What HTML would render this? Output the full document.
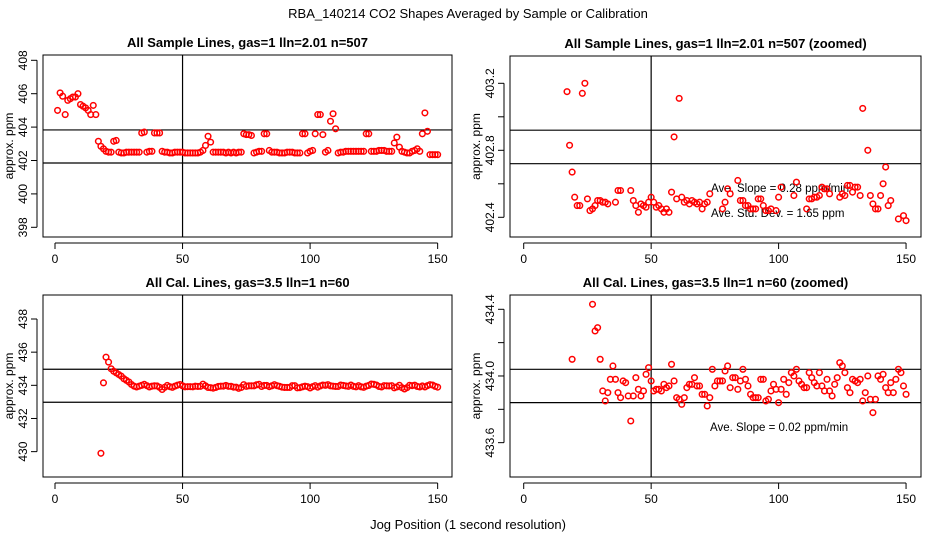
<!DOCTYPE html>
<html><head><meta charset="utf-8"><style>
body{margin:0;background:#fff;}
svg{display:block;font-family:"Liberation Sans",Arial,sans-serif;}
</style></head><body>
<svg id="chart" width="936" height="540" viewBox="0 0 936 540">
<rect width="936" height="540" fill="#fff"/>
<text x="468" y="18" text-anchor="middle" font-size="13">RBA_140214  CO2 Shapes Averaged by Sample or Calibration</text>
<text x="468" y="529" text-anchor="middle" font-size="13">Jog Position (1 second resolution)</text>
</svg>
<script>
// Panel 1: all sample lines
const p1X = [1,2,3,4,5,6,7,8,9,10,11,12,13,14,15,16,17,18,19,20,21,22,23,24,25,26,27,28,29,30,31,32,33,34,35,36,37,38,39,40,41,42,43,44,45,46,47,48,49,50,51,52,53,54,55,56,57,58,59,60,61,62,63,64,65,66,67,68,69,70,71,72,73,74,75,76,77,78,79,80,81,82,83,84,85,86,87,88,89,90,91,92,93,94,95,96,97,98,99,100,101,102,103,104,105,106,107,108,109,110,111,112,113,114,115,116,117,118,119,120,121,122,123,124,125,126,127,128,129,130,131,132,133,134,135,136,137,138,139,140,141,142,143,144,145,146,147,148,149,150];
const p1Y = [405.0,406.05,405.85,404.75,405.6,405.7,405.8,405.8,406.0,405.35,405.25,405.15,405.0,404.75,405.3,404.75,403.15,402.85,402.7,402.55,402.5,402.5,403.15,403.2,402.5,402.45,402.45,402.5,402.5,402.5,402.5,402.5,402.5,403.65,403.7,402.5,402.55,402.55,403.65,403.65,403.65,402.55,402.5,402.5,402.45,402.45,402.5,402.5,402.5,402.5,402.45,402.45,402.45,402.45,402.45,402.45,402.5,402.6,402.9,403.45,403.1,402.5,402.5,402.5,402.5,402.5,402.45,402.5,402.45,402.5,402.45,402.5,402.5,403.6,403.55,403.55,403.5,402.45,402.5,402.55,402.55,403.6,403.6,402.6,402.5,402.5,402.5,402.45,402.45,402.45,402.5,402.5,402.5,402.45,402.45,402.45,403.6,403.6,402.45,402.55,402.6,403.6,404.75,404.75,403.55,402.5,402.6,404.35,404.8,403.9,402.45,402.5,402.5,402.55,402.55,402.55,402.55,402.55,402.55,402.55,402.55,403.6,403.6,402.55,402.55,402.55,402.6,402.6,402.6,402.55,402.55,402.55,403.05,403.4,402.8,402.55,402.5,402.45,402.45,402.55,402.6,402.7,402.55,403.6,404.85,403.75,402.35,402.35,402.35,402.35];
// Panel 2: zoomed sample lines
const p2X = [17,18,19,20,21,22,23,24,25,26,27,28,29,30,31,32,33,36,37,38,42,43,44,45,46,47,48,49,50,51,52,53,54,55,56,57,58,59,60,61,62,63,64,65,66,67,68,69,70,71,72,73,78,79,80,81,84,85,86,87,88,89,90,91,92,93,94,95,96,97,99,100,101,106,107,111,112,113,114,115,116,117,118,119,120,124,125,126,127,128,129,130,131,132,133,135,136,137,138,139,140,141,142,143,144,147,149,150];
const p2Y = [403.15,402.83,402.67,402.52,402.47,402.47,403.14,403.2,402.51,402.44,402.45,402.47,402.5,402.5,402.49,402.49,402.48,402.49,402.56,402.56,402.56,402.5,402.47,402.43,402.48,402.47,402.46,402.49,402.52,402.49,402.46,402.47,402.45,402.43,402.45,402.43,402.55,402.88,402.51,403.11,402.52,402.49,402.5,402.48,402.5,402.49,402.48,402.49,402.45,402.48,402.49,402.54,402.45,402.49,402.57,402.54,402.62,402.5,402.5,402.47,402.47,402.45,402.45,402.45,402.51,402.51,402.47,402.44,402.44,402.45,402.44,402.52,402.58,402.53,402.61,402.45,402.51,402.51,402.52,402.52,402.53,402.58,402.57,402.57,402.54,402.52,402.54,402.53,402.59,402.59,402.55,402.58,402.58,402.53,403.05,402.8,402.53,402.48,402.45,402.45,402.53,402.6,402.7,402.47,402.5,402.39,402.41,402.38];
// Panel 3: all cal lines
const p3X = [18,19,20,21,22,23,24,25,26,27,28,29,30,31,32,33,34,35,36,37,38,39,40,41,42,43,44,45,46,47,48,49,50,51,52,53,54,55,56,57,58,59,60,61,62,63,64,65,66,67,68,69,70,71,72,73,74,75,76,77,78,79,80,81,82,83,84,85,86,87,88,89,90,91,92,93,94,95,96,97,98,99,100,101,102,103,104,105,106,107,108,109,110,111,112,113,114,115,116,117,118,119,120,121,122,123,124,125,126,127,128,129,130,131,132,133,134,135,136,137,138,139,140,141,142,143,144,145,146,147,148,149,150];
const p3Y = [429.9,434.15,435.7,435.4,435.0,434.85,434.75,434.65,434.55,434.4,434.3,434.2,434.05,433.95,433.9,433.95,434.0,434.06,433.98,433.9,433.95,433.97,433.96,433.88,433.75,433.88,433.99,433.92,433.88,433.95,434.01,434.05,433.97,433.91,433.92,433.92,433.91,433.95,433.93,433.94,434.07,433.97,433.87,433.86,433.83,433.87,433.93,433.95,433.95,433.99,433.94,433.94,433.89,433.89,433.82,433.87,434.04,433.94,433.97,433.97,433.97,434.03,434.06,433.93,433.99,433.99,433.92,433.97,434.04,433.98,433.94,433.89,433.87,433.87,433.87,433.98,433.98,433.85,433.86,433.91,433.95,433.92,433.84,433.92,433.98,433.89,433.96,434.02,434.0,434.04,433.97,433.95,433.93,433.93,434.02,433.99,433.96,433.94,434.02,433.94,433.91,433.98,433.91,433.88,433.95,433.99,434.08,434.06,434.02,433.93,433.9,433.98,433.97,433.96,433.98,433.85,433.9,434.0,433.86,433.78,433.86,434.0,433.98,434.01,433.93,433.9,433.96,433.9,433.98,434.04,434.02,433.94,433.89];
// Panel 4: zoomed cal lines
const p4X = [19,27,28,29,30,31,32,33,34,35,36,37,38,39,40,41,42,43,44,45,46,47,48,49,50,51,52,53,54,55,56,57,58,59,60,61,62,63,64,65,66,67,68,69,70,71,72,73,74,75,76,77,78,79,80,81,82,83,84,85,86,87,88,89,90,91,92,93,94,95,96,97,98,99,100,101,102,103,104,105,106,107,108,109,110,111,112,113,114,115,116,117,118,119,120,121,122,123,124,125,126,127,128,129,130,131,132,133,134,135,136,137,138,139,140,141,142,143,144,145,146,147,148,149,150];
const p4Y = [434.10,434.43,434.27,434.29,434.10,433.91,433.85,433.90,433.98,434.06,433.98,433.90,433.87,433.97,433.96,433.88,433.73,433.88,433.99,433.92,433.88,433.91,434.01,434.05,433.97,433.91,433.92,433.92,433.91,433.95,433.93,433.94,434.07,433.97,433.87,433.86,433.83,433.87,433.93,433.95,433.95,433.99,433.94,433.94,433.89,433.89,433.82,433.87,434.04,433.94,433.97,433.97,433.97,434.03,434.06,433.93,433.99,433.99,433.92,433.97,434.04,433.98,433.94,433.89,433.87,433.87,433.87,433.98,433.98,433.85,433.86,433.91,433.95,433.92,433.84,433.92,433.98,433.89,433.96,434.02,434.0,434.04,433.97,433.95,433.93,433.93,434.02,433.99,433.96,433.94,434.02,433.94,433.91,433.98,433.91,433.88,433.95,433.99,434.08,434.06,434.02,433.93,433.9,433.98,433.97,433.96,433.98,433.85,433.9,434.0,433.86,433.78,433.86,434.0,433.98,434.01,433.93,433.9,433.96,433.9,433.98,434.04,434.02,433.94,433.89];

const xTicks = [0,50,100,150];
const p1YTicks = [398,400,402,404,406,408];
const p2YTicks = [402.4,402.6,402.8,403.0,403.2];
const p2YLabels = ["402.4","","402.8","","403.2"];
const p3YTicks = [430,432,434,436,438];
const p4YTicks = [433.6,433.8,434.0,434.2,434.4];
const p4YLabels = ["433.6","","434.0","","434.4"];
const p1HLines = [403.83,401.85];
const p2HLines = [402.92,402.72];
const p3HLines = [434.97,432.98];
const p4HLines = [434.04,433.84];
const vLineX = 50;

const NS = "http://www.w3.org/2000/svg";
const svg = document.getElementById('chart');
function mk(tag, attrs, parent){
  const e = document.createElementNS(NS, tag);
  for (const k in attrs) e.setAttribute(k, attrs[k]);
  (parent||svg).appendChild(e);
  return e;
}

function panel(cfg){
  const g = mk('g', {});
  
  
  const sx = v => cfg.x0 + v * cfg.xs;
  const sy = v => cfg.yRef - (v - cfg.vRef) * cfg.ys;
  const t = mk('text', {x: (cfg.L + cfg.R)/2, y: cfg.T - 8, 'text-anchor':'middle', 'font-size':'13', 'font-weight':'bold'}, g);
  t.textContent = cfg.title;
  
  
  const box = mk('rect', {x: cfg.L, y: cfg.T, width: cfg.R - cfg.L, height: cfg.B - cfg.T, fill:'none', stroke:'#000', 'stroke-width':'1'}, g);
  
  
  // x axis
  const xa = mk('g', {}, g);
  
  
  mk('line', {x1: sx(xTicks[0]), x2: sx(xTicks[xTicks.length-1]), y1: cfg.B + 6, y2: cfg.B + 6, stroke:'#000'}, xa);
  xTicks.forEach(v => {
    mk('line', {x1: sx(v), x2: sx(v), y1: cfg.B + 6, y2: cfg.B + 12, stroke:'#000'}, xa);
    const tl = mk('text', {x: sx(v), y: cfg.B + 26, 'text-anchor':'middle', 'font-size':'12'}, xa);
    tl.textContent = v;
    
    
  });
  // y axis
  const ya = mk('g', {}, g);
  
  
  const ax = cfg.L - 6;
  mk('line', {x1: ax, x2: ax, y1: sy(cfg.yTicks[0]), y2: sy(cfg.yTicks[cfg.yTicks.length-1]), stroke:'#000'}, ya);
  cfg.yTicks.forEach((v, i) => {
    mk('line', {x1: ax - 6, x2: ax, y1: sy(v), y2: sy(v), stroke:'#000'}, ya);
    const lab = cfg.yLabels ? cfg.yLabels[i] : String(v);
    if (lab) {
      const tl = mk('text', {x: 0, y: 0, 'text-anchor':'middle', 'font-size':'12', transform: `translate(${ax - 10},${sy(v)}) rotate(-90)`}, ya);
      tl.textContent = lab;
      
      
    }
  });
  const yt = mk('text', {x:0, y:0, 'text-anchor':'middle', 'font-size':'12', transform:`translate(${cfg.L - 30},${(cfg.T + cfg.B)/2}) rotate(-90)`}, g);
  yt.textContent = 'approx. ppm';
  
  
  // reference lines
  cfg.hLines.forEach(v => {
    const l = mk('line', {x1: cfg.L, x2: cfg.R, y1: sy(v), y2: sy(v), stroke:'#000', 'stroke-width':'1.2'}, g);
    
    
  });
  const vl = mk('line', {x1: sx(vLineX), x2: sx(vLineX), y1: cfg.T, y2: cfg.B, stroke:'#000', 'stroke-width':'1.2'}, g);
  
  
  // annotations
  (cfg.notes || []).forEach(n => {
    const tn = mk('text', {x: n.x, y: n.y, 'font-size':'11.5'}, g);
    tn.textContent = n.text;
    
    
  });
  // points
  const pts = mk('g', {}, g);
  
  
  cfg.xs_.forEach((xv, i) => {
    const c = mk('circle', {cx: sx(xv), cy: sy(cfg.ys_[i]), r: 2.8, fill:'none', stroke:'#ff0000', 'stroke-width':'1.5'}, pts);
    
    
  });
}

panel({name:'panel-all-sample', title:'All Sample Lines, gas=1 lln=2.01 n=507', L:43, R:452, T:55, B:237, x0:55, xs:2.551, yRef:60.3, vRef:408, ys:16.7, yTicks:p1YTicks, hLines:p1HLines, xs_:p1X, ys_:p1Y});
panel({name:'panel-sample-zoomed', title:'All Sample Lines, gas=1 lln=2.01 n=507 (zoomed)', L:510, R:921, T:56, B:237, x0:523.7, xs:2.549, yRef:83.3, vRef:403.2, ys:167.5, yTicks:p2YTicks, yLabels:p2YLabels, hLines:p2HLines, xs_:p2X, ys_:p2Y,
  notes:[{x:711, y:192, text:'Ave. Slope =  0.28  ppm/min'},{x:711, y:217, text:'Ave. Std. Dev. =  1.65  ppm'}]});
panel({name:'panel-all-cal', title:'All Cal. Lines, gas=3.5 lln=1 n=60', L:43, R:452, T:295, B:477, x0:55, xs:2.551, yRef:319, vRef:438, ys:16.58, yTicks:p3YTicks, hLines:p3HLines, xs_:p3X, ys_:p3Y});
panel({name:'panel-cal-zoomed', title:'All Cal. Lines, gas=3.5 lln=1 n=60 (zoomed)', L:510, R:921, T:295, B:477, x0:523.7, xs:2.549, yRef:309.3, vRef:434.4, ys:166.7, yTicks:p4YTicks, yLabels:p4YLabels, hLines:p4HLines, xs_:p4X, ys_:p4Y,
  notes:[{x:710, y:431, text:'Ave. Slope =  0.02  ppm/min'}]});
</script>
</body></html>
